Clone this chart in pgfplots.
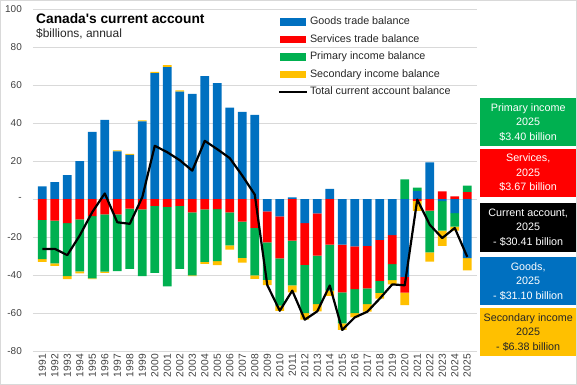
\documentclass[border=0pt]{standalone}
\usepackage{pgfplots}
\pgfplotsset{compat=1.18}
\usepackage{pgfplotstable}
\usepackage{fontspec}
\setmainfont{Liberation Sans}

\definecolor{cgoods}{HTML}{0070C0}
\definecolor{cserv}{HTML}{FF0000}
\definecolor{cprim}{HTML}{00B050}
\definecolor{csec}{HTML}{FFC000}
\definecolor{cgrid}{HTML}{D9D9D9}
\definecolor{ctick}{HTML}{404040}

\pgfplotstableread{
year goods services primary secondary total
1991 6.7 -10.9 -20.7 -1.4 -26.3
1992 9.0 -11.3 -22.5 -1.4 -26.2
1993 12.6 -12.7 -27.8 -1.6 -29.5
1994 20.0 -10.7 -27.3 -1.1 -19.1
1995 35.4 -8.9 -32.9 -0.4 -6.8
1996 41.8 -8.0 -30.2 -0.6 3.0
1997 25.2 -8.0 -29.9 0.5 -12.2
1998 23.3 -5.0 -31.8 0.5 -13.0
1999 41.0 -5.4 -35.1 0.5 1.0
2000 66.4 -3.6 -35.3 0.6 28.1
2001 69.5 -4.1 -41.8 1.1 24.7
2002 56.6 -3.6 -33.2 0.7 20.5
2003 55.5 -7.0 -33.2 -0.3 15.0
2004 64.8 -5.4 -27.6 -1.1 30.7
2005 61.1 -5.2 -27.5 -2.1 26.3
2006 48.2 -7.0 -17.3 -2.3 21.6
2007 45.9 -11.8 -19.2 -2.5 12.4
2008 44.4 -15.1 -25.1 -1.8 2.4
2009 -6.5 -16.3 -19.7 -2.8 -45.3
2010 -9.1 -22.1 -24.9 -2.7 -58.8
2011 0.9 -21.9 -23.5 -3.7 -48.2
2012 -12.6 -22.0 -25.4 -3.5 -63.5
2013 -7.5 -22.3 -25.5 -3.8 -59.1
2014 5.4 -24.0 -24.2 -2.7 -45.5
2015 -24.0 -25.1 -16.3 -3.5 -68.9
2016 -24.9 -22.5 -12.6 -2.3 -62.3
2017 -24.6 -22.4 -8.3 -4.0 -59.3
2018 -21.5 -21.6 -6.3 -3.0 -52.4
2019 -18.9 -15.4 -8.3 -2.3 -44.9
2020 -41.0 -8.3 10.4 -6.5 -45.4
2021 4.2 -0.9 1.8 -5.3 -0.2
2022 19.4 -6.0 -22.1 -4.8 -13.5
2023 -1.1 4.1 -15.5 -8.0 -20.5
2024 -7.4 1.4 -7.1 -2.1 -15.2
2025 -31.10 3.67 3.40 -6.38 -30.41
}\data

\pgfplotsset{
  base/.style={
    scale only axis, width=444bp, height=341.7bp,
    xmin=1990.256, xmax=2025.78, ymin=-80, ymax=100,
    axis line style={draw=none},
  },
  bars/.style={ybar stacked, bar width=8.8bp},
  hidden/.style={ticks=none},
}

\begin{document}
\begin{tikzpicture}
\useasboundingbox (-33bp,-34bp) rectangle (544bp,351bp);
\draw[gray!30, line width=0.8bp] (-32.6bp,-33.6bp) rectangle (543.6bp,350.6bp);

% positive parts
\begin{axis}[base, bars,
  ymajorgrids, grid style={cgrid, line width=0.75bp},
  major tick length=0pt,
  ytick={-80,-60,-40,-20,0,20,40,60,80,100},
  yticklabels={-80,-60,-40,-20,-,20,40,60,80,100},
  yticklabel style={font=\fontsize{10}{12}\selectfont, text=ctick, inner sep=0pt, xshift=-11bp},
  xtick={1991,1992,...,2025},
  xticklabel style={rotate=90, anchor=east, inner sep=0pt, xshift=-3bp,
     font=\fontsize{10.3}{12}\selectfont, text=ctick},
  /pgf/number format/assume math mode=true,
  /pgf/number format/1000 sep={},
]
\addplot[fill=cgoods, draw=none] table[x=year, y expr={max(\thisrow{goods},0)}] {\data};
\addplot[fill=cserv, draw=none] table[x=year, y expr={max(\thisrow{services},0)}] {\data};
\addplot[fill=cprim, draw=none] table[x=year, y expr={max(\thisrow{primary},0)}] {\data};
\addplot[fill=csec, draw=none] table[x=year, y expr={max(\thisrow{secondary},0)}] {\data};
\end{axis}

% negative parts
\begin{axis}[base, bars, hidden]
\addplot[fill=cgoods, draw=none] table[x=year, y expr={min(\thisrow{goods},0)}] {\data};
\addplot[fill=cserv, draw=none] table[x=year, y expr={min(\thisrow{services},0)}] {\data};
\addplot[fill=cprim, draw=none] table[x=year, y expr={min(\thisrow{primary},0)}] {\data};
\addplot[fill=csec, draw=none] table[x=year, y expr={min(\thisrow{secondary},0)}] {\data};
\end{axis}

% total line and legend
\begin{axis}[base, hidden,
  legend style={at={(0.551,0.9795)}, anchor=north west, draw=none, fill=none,
    inner sep=0pt, row sep=7bp, column sep=2bp,
    font=\fontsize{10.8}{13}\selectfont, text=black!85,
    nodes={inner sep=0pt, text height=8bp, text depth=2.5bp}},
  legend cell align=left,
]
\addlegendimage{legend image code/.code={\fill[cgoods] (1.5bp,-3.3bp) rectangle (26bp,3.3bp);}}
\addlegendentry{Goods trade balance}
\addlegendimage{legend image code/.code={\fill[cserv] (1.5bp,-3.3bp) rectangle (26bp,3.3bp);}}
\addlegendentry{Services trade balance}
\addlegendimage{legend image code/.code={\fill[cprim] (1.5bp,-3.3bp) rectangle (26bp,3.3bp);}}
\addlegendentry{Primary income balance}
\addlegendimage{legend image code/.code={\fill[csec] (1.5bp,-3.3bp) rectangle (26bp,3.3bp);}}
\addlegendentry{Secondary income balance}
\addplot[black, line width=2.2bp, line join=round, mark=none,
  legend image code/.code={\draw[black, line width=2.2bp] (0bp,0bp) -- (28bp,0bp);}]
  table[x=year, y=total] {\data};
\addlegendentry{Total current account balance}
\end{axis}

% title
\node[anchor=base west, inner sep=0pt, font=\bfseries\fontsize{13.8}{16}\selectfont] at (3bp,327bp) {Canada\textquotesingle s current account};
\node[anchor=base west, inner sep=0pt, font=\fontsize{12}{14}\selectfont, text=black!85] at (3bp,313.7bp) {\$billions, annual};

% side boxes
\tikzset{box/.style={anchor=north west, inner sep=0pt, minimum width=96bp, minimum height=47.4bp,
   align=center, font=\fontsize{10.8}{14.5}\selectfont}}
\node[box, fill=cprim, text=white] at (447bp,252.7bp) {Primary income\\2025\\\$3.40 billion};
\node[box, fill=cserv, text=white, minimum height=48bp] at (447bp,202.3bp) {Services,\\2025\\\$3.67 billion};
\node[box, fill=black, text=white, minimum height=48.7bp] at (447bp,148bp) {Current account,\\2025\\- \$30.41 billion};
\node[box, fill=cgoods, text=white, minimum height=48.3bp] at (447bp,94.3bp) {Goods,\\2025\\- \$31.10 billion};
\node[box, fill=csec, text=black!85] at (447bp,42.7bp) {Secondary income\\2025\\- \$6.38 billion};
\end{tikzpicture}
\end{document}
